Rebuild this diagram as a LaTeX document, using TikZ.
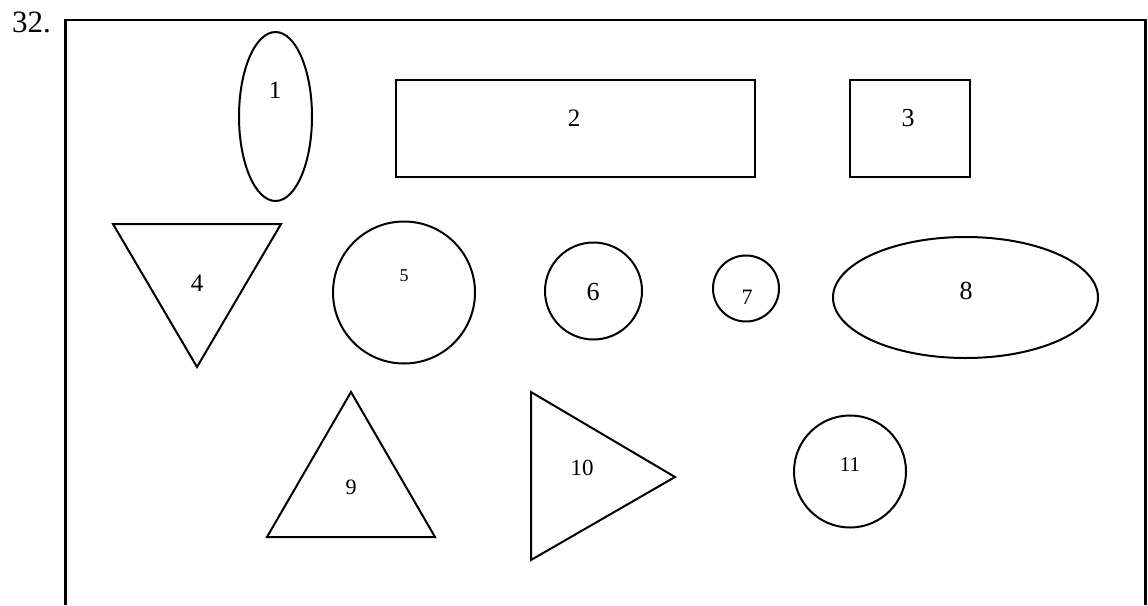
\documentclass[tikz,border=0pt]{standalone}
\usepackage{fontspec}
\setmainfont{Liberation Serif}
\usepackage{tikz}
\usetikzlibrary{shapes.geometric}
\tikzset{
    shapeline/.style={draw, line width=2pt, line join=miter},
    shapenode/.style={shapeline, inner sep=0pt},
    shapelabel/.style={inner sep=0pt, font=\fontsize{#1}{#1}\selectfont},
    shapelabel/.default=25
}

\begin{document}
\begin{tikzpicture}[x=1pt, y=-1pt]
        \useasboundingbox (0,0) rectangle (1148,605);
        \node[anchor=west, shapelabel=31] (qnum) at (12,22.5) {32.};
        \draw[line width=2.2pt] (65.5,605) -- (65.5,20) -- (1145.5,20) -- (1145.5,605);
        % first row
        \node[shapenode, ellipse, minimum width=73pt, minimum height=169pt] (oval) at (275.5,116.5) {};
        \node[shapenode, rectangle, minimum width=359.5pt, minimum height=97pt] (longbox) at (575.25,128.5) {};
        \node[shapenode, rectangle, minimum width=120pt, minimum height=97pt] (squarebox) at (910,128.5) {};
        % second row
        \coordinate (downA) at (113,224);
        \coordinate (downB) at (281,224);
        \coordinate (downC) at (197,367);
        \draw[shapeline] (downA) -- (downB) -- (downC) -- cycle;
        \node[shapenode, circle, minimum size=142pt] (bigcirc) at (404,292.5) {};
        \node[shapenode, circle, minimum size=97pt] (midcirc) at (593.5,291) {};
        \node[shapenode, circle, minimum size=66pt] (smallcirc) at (746,288.5) {};
        \node[shapenode, ellipse, minimum width=265pt, minimum height=121pt] (flatoval) at (965.5,297.5) {};
        % third row
        \coordinate (upA) at (351,392);
        \coordinate (upB) at (267,537);
        \coordinate (upC) at (435,537);
        \draw[shapeline] (upA) -- (upB) -- (upC) -- cycle;
        \coordinate (rightA) at (531,392);
        \coordinate (rightB) at (531,560);
        \coordinate (rightC) at (675,477);
        \draw[shapeline] (rightA) -- (rightB) -- (rightC) -- cycle;
        \node[shapenode, circle, minimum size=112pt] (lastcirc) at (850,471.5) {};
        % labels
        \node[shapelabel] (lab1) at (275,90) {1};
        \node[shapelabel] (lab2) at (574,118) {2};
        \node[shapelabel=26] (lab3) at (908,118) {3};
        \node[shapelabel] (lab4) at (197,283) {4};
        \node[shapelabel=18] (lab5) at (404,276) {5};
        \node[shapelabel=26] (lab6) at (593,292) {6};
        \node[shapelabel=22] (lab7) at (747,297) {7};
        \node[shapelabel=26] (lab8) at (966,291) {8};
        \node[shapelabel=22] (lab9) at (351,487) {9};
        \node[shapelabel=23] (lab10) at (582,468) {10};
        \node[shapelabel=21] (lab11) at (850,465) {11};
    \end{tikzpicture}
\end{document}
